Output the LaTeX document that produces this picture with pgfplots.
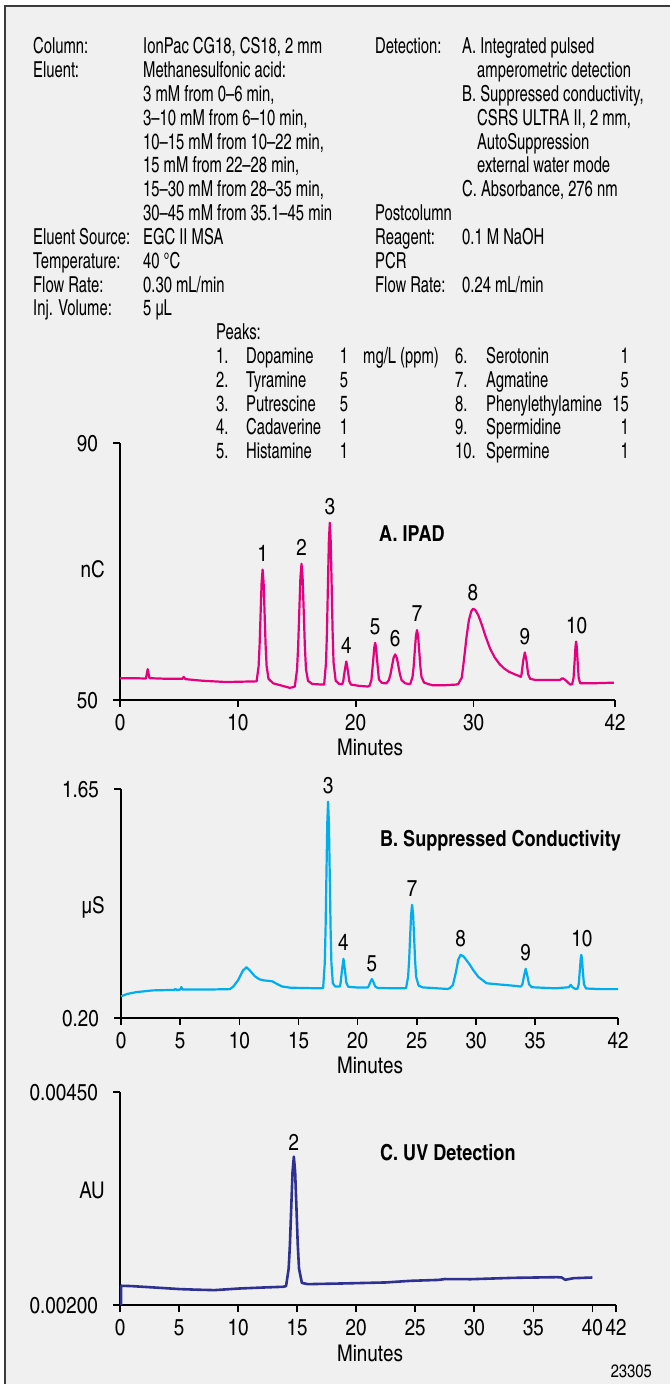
\documentclass[border=0pt]{standalone}
\usepackage{fontspec}
\setmainfont{texgyreheroscn}[Extension=.otf,UprightFont=*-regular,BoldFont=*-bold]
\newfontfamily\hdrfam{texgyreheroscn}[Extension=.otf,UprightFont=*-regular,BoldFont=*-bold,FakeStretch=0.82]
\usepackage{pgfplots}
\pgfplotsset{compat=1.18}

\definecolor{ipad}{RGB}{230,0,126}
\definecolor{cond}{RGB}{0,174,239}
\definecolor{uvblue}{RGB}{46,49,146}
\definecolor{panelbg}{RGB}{240,240,240}
\definecolor{framegray}{RGB}{60,60,60}

\newcommand{\axfont}{\fontsize{23bp}{26bp}\selectfont}
\newcommand{\hdr}{\hdrfam\fontsize{22bp}{24bp}\selectfont}
\newcommand{\ttl}{\fontsize{22bp}{24bp}\selectfont\bfseries}

\pgfplotsset{chrom/.style={
  scale only axis, clip=false,
  axis x line=bottom, axis y line=left,
  axis line style={line width=2bp,-},
  tick align=outside, major tick length=7bp,
  every tick/.style={black,line width=1.6bp},
  tick label style={font=\axfont, inner sep=0pt},
  xticklabel style={anchor=base, yshift=-23bp},
  yticklabel style={anchor=base east, xshift=-15bp, yshift=-8bp},
  scaled y ticks=false,
  every axis plot/.append style={line join=round},
}}
\tikzset{pk/.style={anchor=base, inner sep=0pt, yshift=8bp, font=\axfont}}

\begin{document}
\begin{tikzpicture}
\begin{scope}[x=1bp,y=-1bp]
\useasboundingbox (0,0) rectangle (670,1384);
\fill[white] (0,0) rectangle (670,1384);
\fill[panelbg] (5,6) rectangle (670,1384);
\draw[framegray, line width=2.2bp] (5,1384) -- (5,6) -- (670,6);

% header
\begin{scope}[every node/.style={inner sep=0pt, font=\hdr}]
\node[anchor=base west] at (33,54) {Column:};
\node[anchor=base west] at (143,54) {IonPac CG18, CS18, 2 mm};
\node[anchor=base west] at (33,77.8) {Eluent:};
\node[anchor=base west] at (143,77.8) {Methanesulfonic acid:};
\node[anchor=base west] at (143,101.6) {3 mM from 0–6 min,};
\node[anchor=base west] at (143,125.4) {3–10 mM from 6–10 min,};
\node[anchor=base west] at (143,149.2) {10–15 mM from 10–22 min,};
\node[anchor=base west] at (143,173) {15 mM from 22–28 min,};
\node[anchor=base west] at (143,196.8) {15–30 mM from 28–35 min,};
\node[anchor=base west] at (143,220.6) {30–45 mM from 35.1–45 min};
\node[anchor=base west] at (33,244.4) {Eluent Source:};
\node[anchor=base west] at (143,244.4) {EGC II MSA};
\node[anchor=base west] at (33,268.2) {Temperature:};
\node[anchor=base west] at (143,268.2) {40 °C};
\node[anchor=base west] at (33,292) {Flow Rate:};
\node[anchor=base west] at (143,292) {0.30 mL/min};
\node[anchor=base west] at (33,315.8) {Inj. Volume:};
\node[anchor=base west] at (143,315.8) {5 µL};

\node[anchor=base west] at (375,54) {Detection:};
\node[anchor=base west] at (462,54) {A. Integrated pulsed};
\node[anchor=base west] at (477,77.8) {amperometric detection};
\node[anchor=base west] at (462,101.6) {B. Suppressed conductivity,};
\node[anchor=base west] at (477,125.4) {CSRS ULTRA II, 2 mm,};
\node[anchor=base west] at (477,149.2) {AutoSuppression};
\node[anchor=base west] at (477,173) {external water mode};
\node[anchor=base west] at (462,196.8) {C. Absorbance, 276 nm};
\node[anchor=base west] at (375,220.6) {Postcolumn};
\node[anchor=base west] at (375,244.4) {Reagent:};
\node[anchor=base west] at (462,244.4) {0.1 M NaOH};
\node[anchor=base west] at (375,268.2) {PCR};
\node[anchor=base west] at (375,292) {Flow Rate:};
\node[anchor=base west] at (462,292) {0.24 mL/min};

\node[anchor=base west] at (216,339.6) {Peaks:};
\node[anchor=base west] at (216,363.4) {1.};
\node[anchor=base west] at (246,363.4) {Dopamine};
\node[anchor=base] at (344,363.4) {1};
\node[anchor=base west] at (363,363.4) {mg/L (ppm)};
\node[anchor=base west] at (216,387.2) {2.};
\node[anchor=base west] at (246,387.2) {Tyramine};
\node[anchor=base] at (344,387.2) {5};
\node[anchor=base west] at (216,411) {3.};
\node[anchor=base west] at (246,411) {Putrescine};
\node[anchor=base] at (344,411) {5};
\node[anchor=base west] at (216,434.8) {4.};
\node[anchor=base west] at (246,434.8) {Cadaverine};
\node[anchor=base] at (344,434.8) {1};
\node[anchor=base west] at (216,458.6) {5.};
\node[anchor=base west] at (246,458.6) {Histamine};
\node[anchor=base] at (344,458.6) {1};

\node[anchor=base west] at (455,363.4) {6.};
\node[anchor=base west] at (486,363.4) {Serotonin};
\node[anchor=base east] at (629,363.4) {1};
\node[anchor=base west] at (455,387.2) {7.};
\node[anchor=base west] at (486,387.2) {Agmatine};
\node[anchor=base east] at (629,387.2) {5};
\node[anchor=base west] at (455,411) {8.};
\node[anchor=base west] at (486,411) {Phenylethylamine};
\node[anchor=base east] at (629,411) {15};
\node[anchor=base west] at (455,434.8) {9.};
\node[anchor=base west] at (486,434.8) {Spermidine};
\node[anchor=base east] at (629,434.8) {1};
\node[anchor=base west] at (455,458.6) {10.};
\node[anchor=base west] at (486,458.6) {Spermine};
\node[anchor=base east] at (629,458.6) {1};
\end{scope}

% axis titles and units
\begin{scope}[every node/.style={inner sep=0pt}]
\node[anchor=base east, font=\axfont] at (105,577) {nC};
\node[anchor=base east, font=\axfont] at (105,913) {µS};
\node[anchor=base east, font=\axfont] at (105,1198) {AU};
\node[anchor=base, font=\axfont] at (370,755) {Minutes};
\node[anchor=base, font=\axfont] at (370,1073) {Minutes};
\node[anchor=base, font=\axfont] at (370,1361) {Minutes};
\node[anchor=base west, font=\ttl] at (379,541) {A. IPAD};
\node[anchor=base west, font=\ttl] at (380,846) {B. Suppressed Conductivity};
\node[anchor=base west, font=\ttl] at (380,1160) {C. UV Detection};
\node[anchor=base east, font=\fontsize{18bp}{20bp}\selectfont] at (652,1377) {23305};
\end{scope}
\end{scope}

% A. IPAD
\begin{axis}[chrom, at={(120bp,-700bp)}, anchor=south west,
  width=495bp, height=257bp,
  xmin=0, xmax=42, ymin=50, ymax=90,
  xtick={0,10,20,30,42}, xticklabels={0,10,20,30,42},
  ytick={50,90}, yticklabels={50,90}]
\addplot[ipad, line width=2.2bp] coordinates {
(0,53.4)(1,53.4)(2.2,53.35)(2.35,54.8)(2.5,53.4)(4,53.3)(5.3,53.3)(5.4,53.6)(5.55,53.25)
(7,53.0)(9,52.8)(11.5,52.9)
(11.59,52.9)(11.76,55.25)(11.845,58.56)(11.93,63.46)(12.015,68.25)(12.1,70.3)
(12.185,68.2)(12.27,63.4)(12.355,58.5)(12.44,55.3)(12.6,53.3)
(13.0,52.6)(13.8,52.2)(14.4,51.9)(14.7,52.0)
(14.83,52.1)(15.02,54.7)(15.115,58.3)(15.21,63.7)(15.305,68.95)(15.4,71.2)
(15.495,68.95)(15.59,63.7)(15.685,58.3)(15.78,54.8)(15.95,53.0)(16.3,52.5)(17.2,52.4)
(17.32,52.4)(17.48,55.8)(17.56,60.6)(17.64,67.7)(17.72,74.6)(17.8,77.6)
(17.88,74.6)(17.96,67.7)(18.04,60.6)(18.12,55.8)(18.3,53.0)(18.6,52.5)
(18.85,52.45)(18.94,52.9)(19.07,54.6)(19.2,56.0)(19.33,54.6)(19.46,52.9)(19.6,52.4)
(20.3,52.2)(21.0,52.1)
(21.17,52.2)(21.33,53.1)(21.49,56.3)(21.57,58.1)(21.65,58.9)(21.73,58.1)(21.81,56.3)(21.97,53.2)
(22.2,52.7)(22.45,52.6)
(22.6,52.6)(22.81,53.1)(22.95,54.0)(23.08,55.3)(23.215,56.6)(23.35,57.1)
(23.485,56.6)(23.62,55.3)(23.75,54.0)(23.89,53.1)(24.2,52.6)(24.5,52.5)
(24.63,52.5)(24.82,53.6)(24.915,55.2)(25.01,57.6)(25.105,59.9)(25.2,60.9)
(25.295,59.9)(25.39,57.6)(25.485,55.2)(25.58,53.6)(25.8,52.7)
(26.5,52.3)(27.5,52.3)(28.5,52.4)
(28.7,52.5)(29.0,53.5)(29.2,56.5)(29.4,59.8)(29.6,62.4)(29.8,63.8)(29.95,64.2)
(30.15,64.0)(30.4,63.2)(30.7,61.7)(31.0,60.0)(31.4,58.0)(31.8,56.6)(32.2,55.6)
(32.6,54.9)(33.0,54.4)(33.5,54.0)(33.9,53.7)
(34.0,53.6)(34.07,54.0)(34.21,56.1)(34.35,57.4)(34.49,56.1)(34.63,54.0)(34.8,53.3)
(35.3,53.1)(36.2,53.1)(37.3,53.1)(37.55,53.4)(37.8,53.1)(38.2,52.4)
(38.37,52.5)(38.48,53.4)(38.59,56.5)(38.645,58.3)(38.7,59.1)(38.755,58.3)(38.81,56.5)(38.92,53.4)
(39.05,52.6)(40,52.6)(41.9,52.7)
};
\node[pk] at (axis cs:12.1,70.3) {1};
\node[pk] at (axis cs:15.4,71.2) {2};
\node[pk] at (axis cs:17.8,77.6) {3};
\node[pk] at (axis cs:19.2,56.0) {4};
\node[pk] at (axis cs:21.65,58.9) {5};
\node[pk] at (axis cs:23.35,57.1) {6};
\node[pk] at (axis cs:25.2,60.9) {7};
\node[pk] at (axis cs:29.95,64.2) {8};
\node[pk] at (axis cs:34.35,57.4) {9};
\node[pk] at (axis cs:38.75,59.1) {10};
\end{axis}

% B. Suppressed conductivity
\begin{axis}[chrom, at={(121bp,-1018bp)}, anchor=south west,
  width=497bp, height=229bp,
  xmin=0, xmax=42, ymin=0.20, ymax=1.65,
  xtick={0,5,10,15,20,25,30,35,42}, xticklabels={0,5,10,15,20,25,30,35,42},
  ytick={0.20,1.65}, yticklabels={0.20,1.65}]
\addplot[cond, line width=2.2bp] coordinates {
(0,0.337)(0.5,0.352)(1.3,0.364)(2.7,0.375)(4.5,0.378)(4.6,0.385)(4.7,0.378)
(5.0,0.380)(5.1,0.396)(5.2,0.380)(7.8,0.381)(9.2,0.383)
(9.5,0.40)(9.9,0.44)(10.3,0.50)(10.6,0.522)(10.9,0.50)(11.3,0.465)(11.7,0.445)
(12.1,0.438)(12.5,0.435)(12.8,0.432)(13.2,0.415)(13.6,0.400)(14.3,0.392)(16.8,0.388)
(17.08,0.39)(17.22,0.549)(17.29,0.773)(17.36,1.106)(17.43,1.431)(17.5,1.57)
(17.57,1.431)(17.64,1.106)(17.71,0.773)(17.78,0.55)(17.9,0.42)(18.1,0.40)
(18.5,0.40)(18.56,0.424)(18.68,0.506)(18.8,0.575)(18.92,0.506)(19.04,0.424)(19.2,0.398)
(20.0,0.393)(20.8,0.393)
(20.85,0.393)(20.92,0.40)(21.06,0.426)(21.2,0.447)(21.34,0.426)(21.48,0.40)(21.7,0.39)
(23.9,0.388)
(24.09,0.39)(24.26,0.461)(24.345,0.561)(24.43,0.71)(24.515,0.855)(24.6,0.917)
(24.685,0.855)(24.77,0.71)(24.855,0.561)(24.94,0.461)(25.15,0.405)(25.5,0.394)
(27.6,0.384)(27.8,0.39)(28.05,0.41)(28.3,0.49)(28.5,0.57)(28.7,0.600)(28.95,0.59)
(29.45,0.54)(29.8,0.50)(30.2,0.46)(30.9,0.42)(31.6,0.415)(33.1,0.405)(33.7,0.400)
(33.8,0.399)(33.92,0.414)(34.06,0.467)(34.2,0.512)(34.34,0.467)(34.48,0.414)(34.7,0.395)
(36.7,0.388)(37.85,0.395)(38.0,0.41)(38.15,0.395)(38.4,0.384)
(38.57,0.385)(38.68,0.414)(38.79,0.516)(38.845,0.574)(38.9,0.600)(38.955,0.574)
(39.01,0.516)(39.12,0.414)(39.3,0.387)(40.5,0.383)(42,0.383)
};
\node[pk] at (axis cs:17.5,1.57) {3};
\node[pk] at (axis cs:18.8,0.575) {4};
\node[pk] at (axis cs:21.2,0.447) {5};
\node[pk] at (axis cs:24.6,0.917) {7};
\node[pk] at (axis cs:28.7,0.600) {8};
\node[pk] at (axis cs:34.2,0.512) {9};
\node[pk] at (axis cs:38.95,0.600) {10};
\end{axis}

% C. UV detection
\begin{axis}[chrom, at={(120bp,-1305bp)}, anchor=south west,
  width=496bp, height=213bp,
  xmin=0, xmax=42, ymin=0.0020, ymax=0.0045,
  xtick={0,5,10,15,20,25,30,35,40,42}, xticklabels={0,5,10,15,20,25,30,35,40,42},
  ytick={0.0020,0.0045}, yticklabels={0.00200,0.00450}]
\addplot[uvblue, line width=2.6bp] coordinates {
(0.1,0.00200)(0.1,0.002226)(1,0.002222)(3,0.002205)(5.07,0.002187)(6.5,0.00218)
(8.0,0.002175)(10.1,0.002194)(12,0.002205)(13.8,0.002214)
(14.06,0.002222)(14.28,0.002425)(14.39,0.002715)(14.50,0.003144)(14.61,0.003562)(14.72,0.003742)
(14.83,0.003562)(14.94,0.003144)(15.05,0.002715)(15.16,0.002425)(15.4,0.00226)
(15.9,0.002245)(18.8,0.002253)(22.5,0.002265)(24.6,0.002284)(27.0,0.002295)
(27.5,0.002305)(29.7,0.002303)(33.3,0.002319)(37.0,0.002327)(37.4,0.002323)
(37.7,0.002296)(38.4,0.002315)(40,0.002323)
};
\node[pk, yshift=-2bp] at (axis cs:14.72,0.003742) {2};
\end{axis}
\end{tikzpicture}
\end{document}
